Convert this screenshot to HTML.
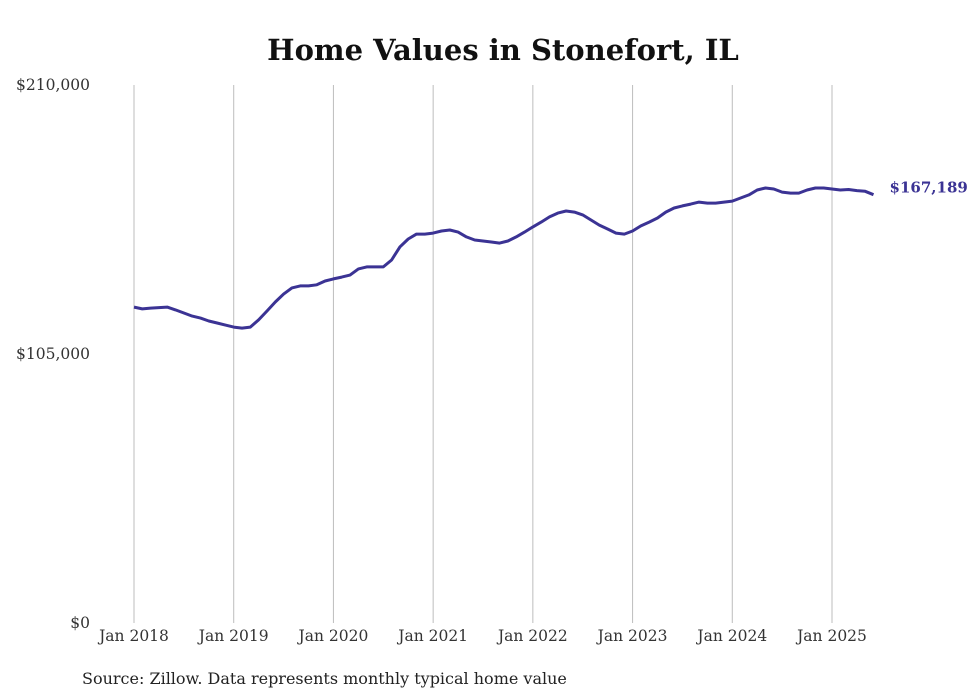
<!DOCTYPE html>
<html><head><meta charset="utf-8"><style>
body{margin:0;background:#fff;}
svg{display:block;font-family:"DejaVu Serif","Liberation Serif",serif;}
</style></head><body>
<svg id="chart" width="980" height="699">
<text x="503" y="60" text-anchor="middle" font-size="29" font-weight="bold" fill="#111">Home Values in Stonefort, IL</text>
<g id="grid"></g>
<g id="yticks"></g>
<g id="xticks"></g>
<path id="line" fill="none" stroke="#3b3394" stroke-width="3" stroke-linejoin="round"/>
<text id="endlabel" font-size="15" font-weight="bold" fill="#3b3394"></text>
<text x="82" y="684" font-size="16" fill="#222">Source: Zillow. Data represents monthly typical home value</text>
</svg>
<script>
const yearLabels = ["Jan 2018","Jan 2019","Jan 2020","Jan 2021","Jan 2022","Jan 2023","Jan 2024","Jan 2025"];
const yTickValues = [0,105000,210000];
const yTickLabels = ["$0","$105,000","$210,000"];
const values = [
123300,122600,122900,123100,123300,122200,121000,119800,119000,117900,117100,116300,
115500,115100,115500,118300,121800,125300,128400,130800,131600,131600,132000,133500,
134300,135000,135800,138200,139000,139000,139000,141700,146800,149900,151800,151800,
152200,153000,153400,152600,150700,149500,149100,148700,148300,149100,150700,152600,
154600,156500,158500,160000,160800,160400,159300,157300,155300,153800,152200,151800,
153000,155000,156500,158100,160400,162000,162800,163500,164300,163900,163900,164300,
164700,165900,167100,169000,169800,169400,168200,167800,167800,169000,169800,169800,
169400,169000,169200,168800,168500,167189];
const x0=134, pxPerMonth=(832-134)/84, yTop=85, yBot=623, yMax=210000;
const X = i => x0 + i*pxPerMonth;
const Y = v => yBot - v/yMax*(yBot-yTop);
const ns="http://www.w3.org/2000/svg";
const grid=document.getElementById('grid'), xt=document.getElementById('xticks'), yt=document.getElementById('yticks');
yearLabels.forEach((lab,k)=>{
  const x=X(k*12);
  const l=document.createElementNS(ns,'line');
  l.setAttribute('x1',x);l.setAttribute('x2',x);l.setAttribute('y1',yTop);l.setAttribute('y2',yBot);
  l.setAttribute('stroke','#bdbdbd');l.setAttribute('stroke-width','1');
  
  
  grid.appendChild(l);
  const t=document.createElementNS(ns,'text');
  t.setAttribute('x',x);t.setAttribute('y',641);t.setAttribute('text-anchor','middle');
  t.setAttribute('font-size','15.5');t.setAttribute('fill','#333');
  t.textContent=lab;
  
  
  xt.appendChild(t);
});
yTickValues.forEach((v,k)=>{
  const t=document.createElementNS(ns,'text');
  t.setAttribute('x',90);t.setAttribute('y',Y(v)+5);t.setAttribute('text-anchor','end');
  t.setAttribute('font-size','15.5');t.setAttribute('fill','#333');
  t.textContent=yTickLabels[k];
  
  
  yt.appendChild(t);
});
let d='';
values.forEach((v,i)=>{d+=(i?'L':'M')+X(i).toFixed(1)+','+Y(v).toFixed(1);});
document.getElementById('line').setAttribute('d',d);
const last=values.length-1, el=document.getElementById('endlabel');
el.setAttribute('x',X(last)+16);el.setAttribute('y',Y(values[last])-2);
el.textContent='$'+values[last].toLocaleString('en-US');
</script>
</body></html>
